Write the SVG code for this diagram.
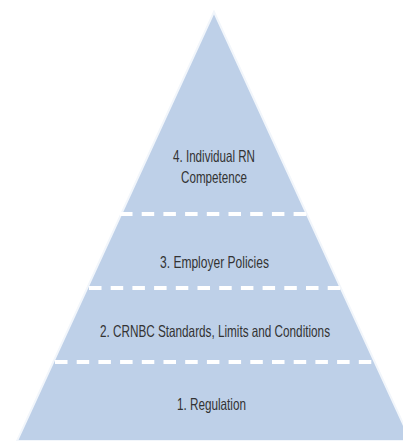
<svg xmlns="http://www.w3.org/2000/svg" width="403" height="441" viewBox="0 0 403 441">
  <style>
    .lbl { font-family: "Liberation Sans Narrow", "Liberation Sans", Arial, sans-serif; font-size: 16.5px; fill: #333333; text-anchor: middle; }
    .dash { stroke: #ffffff; stroke-width: 4; stroke-dasharray: 12.5 9.2; fill: none; }
  </style>
  <rect x="0" y="0" width="403" height="441" fill="#ffffff"/>
  <g id="pyramid">
    <polygon points="214,12 17,441 411,441" fill="#BED0E8" stroke="#F2F6FB" stroke-width="2"/>
  </g>
  <g id="dividers">
    <line class="dash" x1="120" y1="214" x2="308" y2="214"/>
    <line class="dash" x1="89" y1="288" x2="341" y2="288"/>
    <line class="dash" x1="55" y1="362" x2="376" y2="362"/>
  </g>
  <g id="level4">
    <text class="lbl" x="214" y="162" textLength="82" lengthAdjust="spacingAndGlyphs">4. Individual RN</text>
    <text class="lbl" x="214" y="183" textLength="66" lengthAdjust="spacingAndGlyphs">Competence</text>
  </g>
  <g id="level3">
    <text class="lbl" x="214.5" y="268" textLength="109" lengthAdjust="spacingAndGlyphs">3. Employer Policies</text>
  </g>
  <g id="level2">
    <text class="lbl" x="215" y="337" textLength="230" lengthAdjust="spacingAndGlyphs">2. CRNBC Standards, Limits and Conditions</text>
  </g>
  <g id="level1">
    <text class="lbl" x="211.5" y="410" textLength="69" lengthAdjust="spacingAndGlyphs">1. Regulation</text>
  </g>
</svg>
